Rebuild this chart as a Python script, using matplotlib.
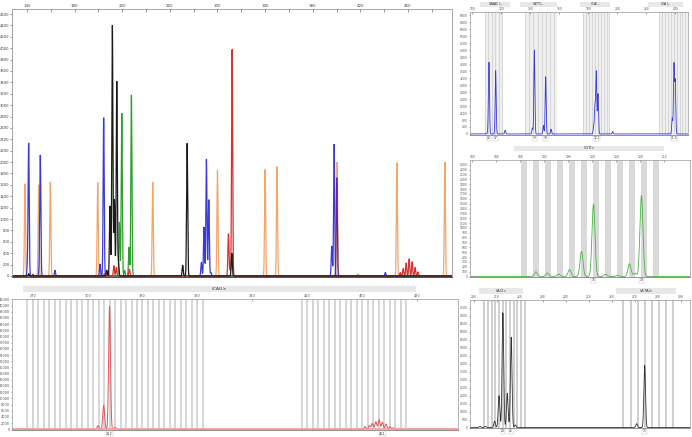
import numpy as np
import matplotlib
matplotlib.use("Agg")
from matplotlib import pyplot as plt
from matplotlib.patches import Rectangle

W, H = 692, 437

# ---- main electropherogram (size in bp, height in RFU) ----
orange_pos = [138.3, 149.8, 159.6, 199.4, 245.6, 300.0, 340.0, 350.0, 400.5, 450.7, 491.0]
orange_ht = [1620, 1600, 1650, 1640, 1650, 1860, 1870, 1920, 2000, 1990, 2000]
blue_pos = [140.4, 141.4, 150.5, 151.2, 163.5, 201.3, 204.4, 208.0, 286.5, 288.7, 290.7, 292.7, 294.5, 396.0, 398.0, 418.0, 441.0]
blue_ht = [200, 2320, 150, 2080, 100, 210, 2780, 80, 240, 860, 2050, 1340, 60, 526, 2316, 20, 60]
purple_pos = [400.2]
purple_ht = [1725]
black_pos = [141.5, 207.0, 209.7, 211.7, 213.4, 215.4, 216.8, 270.8, 274.5, 312.0]
black_ht = [40, 100, 1230, 4400, 1340, 3420, 250, 190, 2330, 400]
green_pos = [217.6, 219.6, 222.0, 225.7, 227.7]
green_ht = [940, 2860, 100, 510, 3180]
red_pos = [145.0, 205.0, 213.0, 215.0, 226.0, 309.2, 310.5, 312.3, 453.5, 456.0, 458.5, 461.0, 463.5, 466.0, 468.5]
red_ht = [30, 40, 180, 150, 120, 740, 100, 3980, 60, 130, 230, 300, 250, 150, 70]
main_ticks = [140, 180, 220, 260, 300, 340, 380, 420, 460]

# ---- blue panel ----
b_pos = [111.0, 111.5, 116.1, 122.6, 141.4, 142.8, 149.0, 150.6, 154.3, 183.7, 184.6, 185.5, 186.7, 196.8, 237.9, 239.1, 240.0]
b_ht = [350, 3990, 3640, 210, 350, 4830, 490, 3290, 280, 420, 1610, 3570, 2310, 140, 910, 3990, 3010]
b_groups = [(108.7, 121.2), (136.3, 158.2), (176.6, 194.3), (229.0, 248.5)]
b_lines = [[108.8, 111.1, 113.4, 115.8, 118.1, 120.3],
           [136.3, 139.2, 142.1, 145.0, 147.9, 150.8, 153.7, 156.6],
           [176.6, 178.6, 180.6, 182.6, 184.6, 186.6, 188.6, 190.6, 192.6, 194.3],
           [229.0, 231.0, 233.0, 235.0, 237.0, 239.0, 241.0, 243.0, 245.0, 247.0]]
b_titles = ["(AAAC)$_n$", "(ATT)$_n$", "(CA)$_n$", "(GA)$_n$"]
b_title_x = [(105.3, 126.0), (132.9, 158.4), (174.3, 195.0), (221.2, 245.3)]
b_calls = ["22", "27", "33", "38", "12.1", "11.6"]
b_call_x = [111.5, 116.1, 142.8, 150.6, 185.8, 239.5]
b_ticks = [100, 120, 140, 160, 180, 200, 220, 240]

# ---- green panel ----
g_pos = [190.6, 192.5, 194.4, 196.2, 198.2, 200.2, 202.2, 204.2, 206.2, 207.1, 208.2]
g_ht = [96, 72, 48, 144, 516, 1488, 48, 24, 264, 70, 1668]
g_bands = [188.6, 190.6, 192.6, 194.6, 196.6, 198.6, 200.6, 202.6, 204.6, 206.6, 208.6, 210.6]
g_calls = ["16", "19"]
g_call_x = [200.2, 208.2]
g_ticks = [180, 184, 188, 192, 196, 200, 204, 208, 212]

# ---- red (CAG) panel ----
r_pos = [305.7, 308.8, 312.0, 315.0, 451.6, 454.0, 455.6, 457.5, 459.3, 461.1, 463.1, 465.3, 467.1]
r_ht = [1200, 7700, 39800, 600, 865, 1190, 1950, 2490, 3030, 2270, 1730, 865, 540]
r_bands = list(range(267, 364, 3)) + list(range(417, 475, 3))
r_calls = ["312", "461"]
r_call_x = [312.0, 461.1]
r_ticks = [270, 300, 330, 360, 390, 420, 450, 480]

# ---- black panel ----
k_pos = [202.6, 205.0, 209.0, 210.9, 212.6, 214.5, 216.2, 218.0, 270.7, 274.2]
k_ht = [80, 80, 400, 2000, 7200, 2160, 5680, 160, 240, 3920]
k_bands = [204.5, 206.1, 207.7, 209.3, 210.9, 212.5, 214.1, 215.7, 217.3, 218.9, 220.5, 222.1,
           264.9, 268.1, 271.2, 274.3, 277.4, 280.4, 283.5, 286.4]
k_titles = ["(AC)$_n$", "(ATA)$_n$"]
k_title_x = [(202.1, 221.2), (261.6, 287.7)]
k_calls = ["24", "26", "13"]
k_call_x = [212.6, 216.2, 274.2]
k_ticks = [200, 210, 220, 230, 240, 250, 260, 270, 280, 290]


def px_axes(fig, x0, y0, x1, y1):
    return fig.add_axes([x0 / W, 1 - y1 / H, (x1 - x0) / W, (y1 - y0) / H])


def trace(ax, pos, hts, color, sigma, lw=0.6, n=9000):
    lo, hi = ax.get_xlim()
    x = np.linspace(lo, hi, n)
    y = np.zeros_like(x)
    for p, h in zip(pos, hts):
        y += h * np.exp(-0.5 * ((x - p) / sigma) ** 2)
    ax.plot(x, y, color=color, lw=lw, solid_joinstyle="miter")


def style(ax, xticks, ystep, fs=2.2):
    ax.xaxis.tick_top()
    ax.set_xticks(xticks)
    ax.set_xticklabels([str(t) for t in xticks])
    ax.set_yticks(np.arange(0, ax.get_ylim()[1], ystep))
    ax.tick_params(axis="x", labelsize=fs, length=1.2, width=0.4, pad=0.6, colors="#555555", direction="in")
    ax.tick_params(axis="y", labelsize=fs, length=1.0, width=0.4, pad=0.6, colors="#555555")
    for s in ax.spines.values():
        s.set_linewidth(0.5)
        s.set_color("#999999")
    ax.spines["bottom"].set_color("#666666")


def title_box(ax, x0, x1, text, y0, y1, fs=3.0):
    tr = ax.get_xaxis_transform()
    ax.add_patch(Rectangle((x0, y0), x1 - x0, y1 - y0, transform=tr, color="#e8e8e8",
                           clip_on=False, lw=0))
    ax.text((x0 + x1) / 2, (y0 + y1) / 2, text, transform=tr, ha="center", va="center",
            fontsize=fs, color="#333333")


def calls(ax, xs, labels, y, fs=2.3):
    tr = ax.get_xaxis_transform()
    for x, t in zip(xs, labels):
        ax.text(x, y, t, transform=tr, ha="center", va="top", fontsize=fs, color="#444444",
                bbox=dict(boxstyle="square,pad=0.15", fc="white", ec="#bbbbbb", lw=0.3))


fig = plt.figure(figsize=(6.92, 4.37), dpi=100)

# main panel
ax = px_axes(fig, 12, 9, 452, 277)
ax.set_xlim(127.4, 497)
ax.set_ylim(-18, 4688)
trace(ax, orange_pos, orange_ht, "#f2a66e", 0.45, lw=0.9, n=12000)
trace(ax, blue_pos, blue_ht, "#3a3ad8", 0.45, lw=0.9, n=12000)
trace(ax, purple_pos, purple_ht, "#5b2a8c", 0.45, lw=0.9, n=12000)
trace(ax, green_pos, green_ht, "#2ca02c", 0.45, lw=0.9, n=12000)
trace(ax, red_pos, red_ht, "#d93030", 0.45, lw=0.9, n=12000)
trace(ax, black_pos, black_ht, "#1a1a1a", 0.45, lw=0.9, n=12000)
ax.xaxis.tick_top()
ax.set_xticks(np.arange(140, 497, 20))
ax.set_xticklabels([str(t) if t in main_ticks else "" for t in np.arange(140, 497, 20)])
ax.set_yticks(np.arange(0, 4601, 200))
ax.tick_params(axis="x", labelsize=2.9, length=2, width=0.4, pad=0.8, colors="#444444", direction="in")
ax.tick_params(axis="y", labelsize=2.7, length=1.2, width=0.4, pad=0.6, colors="#444444")
for s in ax.spines.values():
    s.set_linewidth(0.6)
    s.set_color("#999999")
ax.spines["bottom"].set_color("#333333")

# blue panel
ax = px_axes(fig, 470, 12, 688, 135)
ax.set_xlim(98.4, 248.8)
ax.set_ylim(-60, 7000)
for (a, b), lines in zip(b_groups, b_lines):
    ax.axvspan(a, b, color="#efefef", lw=0)
    for v in lines:
        ax.axvline(v, color="#cccccc", lw=0.5)
trace(ax, b_pos, b_ht, "#3a3ad8", 0.35, lw=0.6)
style(ax, b_ticks, 400)
for (a, b), t in zip(b_title_x, b_titles):
    title_box(ax, a, b, t, 1.044, 1.084, fs=2.3)
calls(ax, b_call_x, b_calls, -0.01, fs=2.2)

# green panel
ax = px_axes(fig, 470, 160, 690, 277)
ax.set_xlim(179.6, 216.3)
ax.set_ylim(-10, 2400)
for c in g_bands:
    ax.axvspan(c - 0.47, c + 0.47, color="#d9d9d9", lw=0)
trace(ax, g_pos, g_ht, "#4daf4a", 0.25, lw=0.6)
style(ax, g_ticks, 100)
title_box(ax, 186.9, 211.9, "(GT)$_n$", 1.077, 1.12, fs=2.8)
calls(ax, g_call_x, g_calls, -0.012, fs=2.2)

# red CAG panel
ax = px_axes(fig, 12, 299, 458, 430)
ax.set_xlim(258.7, 502.4)
ax.set_ylim(-215, 42100)
for v in r_bands:
    ax.axvline(v, color="#cfcfcf", lw=1.2)
trace(ax, r_pos, r_ht, "#e05555", 0.5, lw=0.7)
ax.axhline(0, color="#f0a0a0", lw=1.2)
style(ax, r_ticks, 2000, fs=2.5)
title_box(ax, 264.5, 479.5, "(CAG)$_n$", 1.05, 1.1, fs=3.2)
calls(ax, r_call_x, r_calls, -0.012, fs=2.5)

# black panel
ax = px_axes(fig, 470, 300, 690, 428)
ax.set_xlim(198.3, 293.9)
ax.set_ylim(-30, 8000)
for v in k_bands:
    ax.axvline(v, color="#cfcfcf", lw=1.4)
trace(ax, k_pos, k_ht, "#333333", 0.35, lw=0.6)
style(ax, k_ticks, 500)
for (a, b), t in zip(k_title_x, k_titles):
    title_box(ax, a, b, t, 1.05, 1.095, fs=2.8)
calls(ax, k_call_x, k_calls, -0.01, fs=2.2)

fig.savefig("out.png", dpi=100)
